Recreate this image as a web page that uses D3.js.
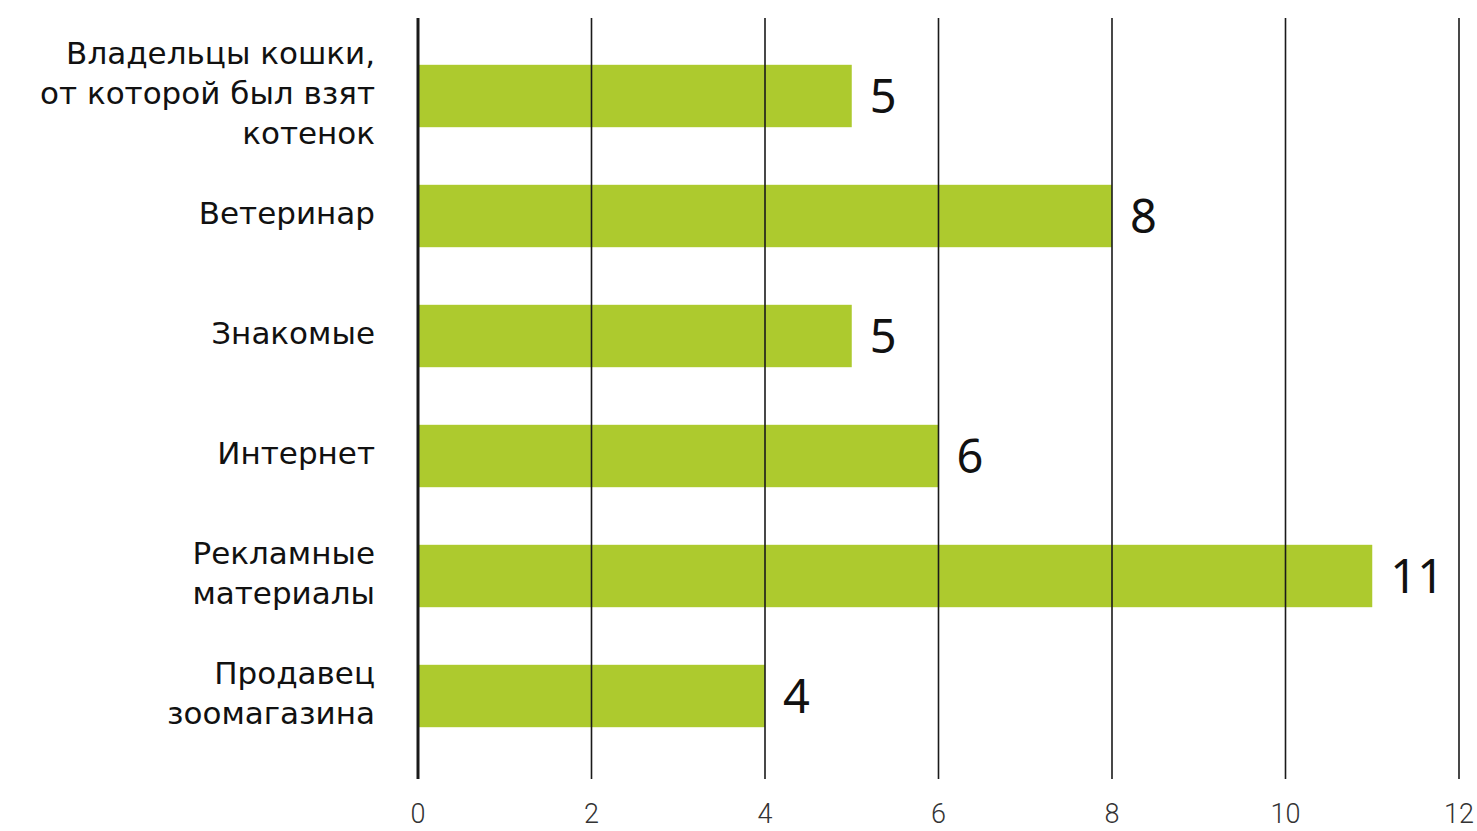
<!DOCTYPE html>
<html>
<head>
<meta charset="utf-8">
<script src="https://cdn.jsdelivr.net/npm/d3@7"></script>
<style>
  body { margin: 0; background: #fff; }
  svg { display: block; }
</style>
</head>
<body>
<svg width="1477" height="831"></svg>
<script>
// categories (top to bottom), multi-line labels
var categories = [
  ["Владельцы кошки,", "от которой был взят", "котенок"],
  ["Ветеринар"],
  ["Знакомые"],
  ["Интернет"],
  ["Рекламные", "материалы"],
  ["Продавец", "зоомагазина"]
];
var values = [5, 8, 5, 6, 11, 4];
var tickValues = [0, 2, 4, 6, 8, 10, 12];

var svg = d3.select("svg");

var xScale = d3.scaleLinear().domain([0, 12]).range([418, 1459]);
var yScale = d3.scaleBand()
  .domain(d3.range(categories.length))
  .range([36, 756])
  .paddingInner(0.48)
  .paddingOuter(0.24);

var gridTop = 18, gridBottom = 779;

// bars
svg.selectAll("rect.bar")
  .data(values)
  .enter()
  .append("rect")
  .attr("class", "bar")
  .attr("x", xScale(0))
  .attr("y", function(d, i) { return yScale(i); })
  .attr("width", function(d) { return xScale(d) - xScale(0); })
  .attr("height", yScale.bandwidth())
  .style("fill", "#adca2e");

// gridlines on top of bars
svg.selectAll("line.grid")
  .data(tickValues)
  .enter()
  .append("line")
  .attr("class", "grid")
  .attr("x1", function(d) { return xScale(d); })
  .attr("x2", function(d) { return xScale(d); })
  .attr("y1", gridTop)
  .attr("y2", gridBottom)
  .style("stroke", "#1a1a1a")
  .style("stroke-width", function(d) { return d === 0 ? 3 : 1.6; });

// x tick labels
svg.selectAll("text.tick")
  .data(tickValues)
  .enter()
  .append("text")
  .attr("class", "tick")
  .attr("x", function(d) { return xScale(d); })
  .attr("y", 823)
  .attr("text-anchor", "middle")
  .style("font-family", "Roboto, sans-serif")
  .style("font-weight", 300)
  .style("font-size", "27px")
  .style("fill", "#333")
  .text(function(d) { return d; });

// value labels
svg.selectAll("text.value")
  .data(values)
  .enter()
  .append("text")
  .attr("class", "value")
  .attr("x", function(d) { return xScale(d) + 18; })
  .attr("y", function(d, i) { return yScale(i) + yScale.bandwidth() / 2; })
  .attr("dy", "0.36em")
  .style("font-family", "'Noto Sans', sans-serif")
  .style("font-size", "47px")
  .style("fill", "#111")
  .text(function(d) { return d; });

// category labels
var lineH = 40;
var catLabels = svg.selectAll("text.cat")
  .data(categories)
  .enter()
  .append("text")
  .attr("class", "cat")
  .attr("text-anchor", "end")
  .style("font-family", "'DejaVu Sans', sans-serif")
  .style("font-size", "31px")
  .style("fill", "#111")
  .attr("transform", function(d, i) {
    var cy = yScale(i) + yScale.bandwidth() / 2 - 3;
    return "translate(375," + (cy - (d.length - 1) * lineH / 2) + ")";
  });

catLabels.selectAll("tspan")
  .data(function(d) { return d; })
  .enter()
  .append("tspan")
  .attr("x", 0)
  .attr("y", function(d, j) { return j * lineH; })
  .attr("dy", "0.35em")
  .text(function(d) { return d; });
</script>
</body>
</html>
